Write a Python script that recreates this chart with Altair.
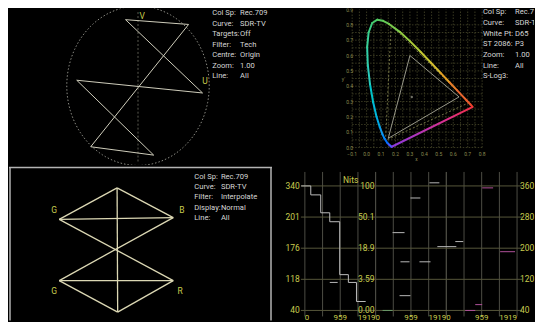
import altair as alt
import pandas as pd

FONT = "Roboto, Liberation Sans, sans-serif"
TXT = "#d6d6d6"
YEL = "#c9cc4e"

# panel sizes (layout)
W_L, W_R, H_T, H_B = 264, 263, 157, 156

# ---------------- Top-left: vectorscope ----------------
vec_u = [-0.175, 0.71, -0.664, 0.22, -0.86, 0.906, -0.175]
vec_v = [0.83, 0.77, -0.765, -0.87, 0.07, -0.09, 0.83]
vec_lbl = ["V", "U"]
vec_lbl_u = [0.06, 0.94]
vec_lbl_v = [0.88, 0.056]
circle_deg = list(range(0, 361, 3))
tl_keys = ["Col Sp:", "Curve:", "Targets:", "Filter:", "Centre:", "Zoom:", "Line:"]
tl_vals = ["Rec.709", "SDR-TV", "Off", "Tech", "Origin", "1.00", "All"]

# ---------------- Top-right: CIE 1931 chromaticity ----------------
locus_wl = [380, 420, 440, 450, 460, 470, 475, 480, 485, 490, 495, 500, 505, 510, 515,
            520, 525, 530, 540, 550, 560, 570, 580, 590, 600, 620, 640, 700]
locus_x = [0.1741, 0.1714, 0.1644, 0.1566, 0.1440, 0.1241, 0.1096, 0.0913, 0.0687, 0.0454,
           0.0235, 0.0082, 0.0039, 0.0139, 0.0389, 0.0743, 0.1142, 0.1547, 0.2296, 0.3016,
           0.3731, 0.4441, 0.5125, 0.5752, 0.6270, 0.6915, 0.7190, 0.7347]
locus_y = [0.0050, 0.0051, 0.0109, 0.0177, 0.0297, 0.0578, 0.0868, 0.1327, 0.2007, 0.2950,
           0.4127, 0.5384, 0.6548, 0.7502, 0.8120, 0.8338, 0.8262, 0.8059, 0.7543, 0.6923,
           0.6245, 0.5547, 0.4866, 0.4242, 0.3725, 0.3083, 0.2809, 0.2653]
rec709_x = [0.64, 0.30, 0.15, 0.64]
rec709_y = [0.33, 0.60, 0.06, 0.33]
rec2020_x = [0.708, 0.170, 0.131, 0.708]
rec2020_y = [0.292, 0.797, 0.046, 0.292]
white_x, white_y = [0.3127], [0.3290]
cie_xticks = [-0.1, 0.0, 0.1, 0.2, 0.3, 0.4, 0.5, 0.6, 0.7, 0.8]
cie_yticks = [0.0, 0.1, 0.2, 0.3, 0.4, 0.5, 0.6, 0.7, 0.8, 0.9]
cie_grid = [round(-0.1 + 0.05 * i, 2) for i in range(19)]
tr_keys = ["Col Sp:", "Curve:", "White Pt:", "ST 2086:", "Zoom:", "Line:", "S-Log3:"]
tr_vals = ["Rec.709", "SDR-TV", "D65", "P3", "1.00", "All", ""]

# ---------------- Bottom-left: diamond display ----------------
dia_x1 = [0, 0, -1.01, -1.01, 0.98, -1.01, -1.01, 0.98, 0]
dia_y1 = [1, 1, 0.49, 0.49, 0.52, -0.5, -0.5, -0.5, 1]
dia_x2 = [-1.01, 0.98, 0.98, 0.98, -1.01, 0.98, 0.01, 0.01, 0.01]
dia_y2 = [0.49, 0.52, 0.52, -0.5, -0.5, -0.5, -1.01, -1.01, -1.01]
dia_lbl = ["G", "B", "G", "R"]
dia_lbl_x = [-1.10, 1.13, -1.10, 1.10]
dia_lbl_y = [0.645, 0.645, -0.67, -0.67]
bl_keys = ["Col Sp:", "Curve:", "Filter:", "Display:", "Line:"]
bl_vals = ["Rec.709", "SDR-TV", "Interpolate", "Normal", "All"]

# ---------------- Bottom-right: waveform parade ----------------
wf_levels = [40, 120, 200, 280, 360]
wf_left_lbl = ["40", "118", "176", "201", "340"]
wf_nits_lbl = ["0.00", "3.59", "18.9", "50.1", "100"]
wf_right_lbl = ["40", "120", "200", "280", "360"]
wf_segments = [0, 1, 2]
wf_vlines = [0, 480, 959, 1440, 1919]
wf_xlbl_line = [0, 959, 1919]
wf_xlbl_align = ["left", "center", "right"]
SEG = 1919
wf1_line = [-100, 160, 430, 675, 945, 1180, 1400, 1650]
wf1_lvl = [360, 337, 291, 268, 132, 112, 63, 63]
tr_seg = [0, 1, 1, 1, 1, 1, 1, 1, 1, 2, 2, 2, 2, 2]
tr_l0 = [675, 190, 460, 650, 675, 945, 1190, 1460, 1675, 243, 973, 1460, 513, 784]
tr_l1 = [890, 460, 785, 945, 920, 1215, 1490, 1730, 2190, 459, 1270, 1865, 784, 973]
tr_lvl = [112, 40, 240, 78, 165, 329, 165, 368, 204, 217, 355, 191, 40, 55]
tr_grp = ["w", "g", "w", "w", "w", "w", "w", "w", "w", "w", "m", "m", "m", "m"]


def sc(dom):
    return alt.Scale(domain=dom, nice=False, zero=False)


def text_block(keys, vals, xk, xv, y0, dy, size=7.6, color=TXT):
    n = len(keys)
    df = pd.DataFrame({"row": list(range(n)), "k": keys, "v": vals})
    yenc = alt.Y("row:Q", scale=alt.Scale(domain=[0, n - 1], range=[y0, y0 + dy * (n - 1)]), axis=None)
    base = alt.Chart(df)
    kw = dict(baseline="middle", font=FONT, fontSize=size, color=color, clip=True, align="left")
    return [base.mark_text(**kw).encode(x=alt.value(xk), y=yenc, text="k:N"),
            base.mark_text(**kw).encode(x=alt.value(xv), y=yenc, text="v:N")]


def panel(layers, w, h):
    return alt.layer(*layers).properties(width=w, height=h).resolve_scale(x="independent", y="independent")


# ---- top-left panel ----
xs_tl, ys_tl = sc([-1.811, 1.881]), sc([-0.994, 0.969])
circ = alt.Chart(pd.DataFrame({"deg": circle_deg})).transform_calculate(
    u="cos(datum.deg*PI/180)", v="sin(datum.deg*PI/180)"
).mark_line(color="#8c8c84", strokeDash=[1.5, 2], strokeWidth=1, clip=True).encode(
    x=alt.X("u:Q", scale=xs_tl, axis=None), y=alt.Y("v:Q", scale=ys_tl, axis=None), order="deg:Q")
axis_v = alt.Chart(pd.DataFrame({"u": [0], "v0": [-0.95], "v1": [0.95]})).mark_rule(
    color="#5a5a50", strokeDash=[2, 2], strokeWidth=1, clip=True).encode(
    x=alt.X("u:Q", scale=xs_tl, axis=None), y=alt.Y("v0:Q", scale=ys_tl, axis=None), y2="v1:Q")
vec = alt.Chart(pd.DataFrame({"i": list(range(len(vec_u))), "u": vec_u, "v": vec_v})).mark_line(
    color="#d0cebc", strokeWidth=1, clip=True).encode(
    x=alt.X("u:Q", scale=xs_tl, axis=None), y=alt.Y("v:Q", scale=ys_tl, axis=None), order="i:Q")
vec_t = alt.Chart(pd.DataFrame({"t": vec_lbl, "u": vec_lbl_u, "v": vec_lbl_v})).mark_text(
    color=YEL, font=FONT, fontSize=8.5, clip=True).encode(
    x=alt.X("u:Q", scale=xs_tl, axis=None), y=alt.Y("v:Q", scale=ys_tl, axis=None), text="t:N")
tl = panel([circ, axis_v, vec, vec_t] + text_block(tl_keys, tl_vals, 204, 232, 4.7, 10.55), W_L, H_T)

# ---- top-right panel ----
xs_tr, ys_tr = sc([-0.655, 1.159]), sc([-0.114, 0.906])
grid_df = pd.DataFrame({"g": cie_grid})
gkw = dict(color="#46462a", strokeWidth=0.8, strokeDash=[1.5, 1.5], clip=True)
gv = alt.Chart(grid_df).transform_calculate(y0="0", y1="0.9").mark_rule(**gkw).encode(
    x=alt.X("g:Q", scale=xs_tr, axis=None), y=alt.Y("y0:Q", scale=ys_tr, axis=None), y2="y1:Q")
gh = alt.Chart(grid_df).transform_filter("datum.g >= 0 && datum.g <= 0.9").transform_calculate(
    x0="-0.1", x1="0.8").mark_rule(**gkw).encode(
    y=alt.Y("g:Q", scale=ys_tr, axis=None), x=alt.X("x0:Q", scale=xs_tr, axis=None), x2="x1:Q")
seg_df = pd.DataFrame({"wl": [(a + b) / 2 for a, b in zip(locus_wl[:-1], locus_wl[1:])],
                       "x1": locus_x[:-1], "x2": locus_x[1:], "y1": locus_y[:-1], "y2": locus_y[1:]})
loc = alt.Chart(seg_df).mark_rule(strokeWidth=2, strokeCap="round", clip=True).encode(
    x=alt.X("x1:Q", scale=xs_tr, axis=None), x2="x2:Q",
    y=alt.Y("y1:Q", scale=ys_tr, axis=None), y2="y2:Q",
    color=alt.Color("wl:Q", legend=None, scale=alt.Scale(
        domain=[380, 460, 480, 495, 505, 520, 550, 575, 600, 700],
        range=["#6a48ff", "#3c5cff", "#2fa0e6", "#2ec8c0", "#38d0a0", "#4cc860",
               "#a0cc3c", "#d8c030", "#e86a30", "#ee2a2a"])))
purple = alt.Chart(pd.DataFrame({"x": [locus_x[0], locus_x[-1]], "y": [locus_y[0], locus_y[-1]]})).mark_line(
    strokeWidth=2, clip=True,
    stroke=alt.Gradient(gradient="linear", x1=0, x2=1, y1=1, y2=0,
                        stops=[alt.GradientStop(color="#8a3ae0", offset=0),
                               alt.GradientStop(color="#e0308a", offset=0.7),
                               alt.GradientStop(color="#f03040", offset=1)])).encode(
    x=alt.X("x:Q", scale=xs_tr, axis=None), y=alt.Y("y:Q", scale=ys_tr, axis=None))
tri709 = alt.Chart(pd.DataFrame({"i": list(range(4)), "x": rec709_x, "y": rec709_y})).mark_line(
    color="#a8a898", strokeWidth=0.9, clip=True).encode(
    x=alt.X("x:Q", scale=xs_tr, axis=None), y=alt.Y("y:Q", scale=ys_tr, axis=None), order="i:Q")
tri2020 = alt.Chart(pd.DataFrame({"i": list(range(4)), "x": rec2020_x, "y": rec2020_y})).mark_line(
    color="#7e7e4c", strokeWidth=0.9, strokeDash=[2, 2], clip=True).encode(
    x=alt.X("x:Q", scale=xs_tr, axis=None), y=alt.Y("y:Q", scale=ys_tr, axis=None), order="i:Q")
wp = alt.Chart(pd.DataFrame({"x": white_x, "y": white_y})).mark_point(
    filled=True, size=6, color="#a0a090", clip=True).encode(
    x=alt.X("x:Q", scale=xs_tr, axis=None), y=alt.Y("y:Q", scale=ys_tr, axis=None))
lkw = dict(color="#8c8c50", font=FONT, fontSize=5, clip=True)
xl = alt.Chart(pd.DataFrame({"x": cie_xticks})).transform_calculate(
    y="-0.042", t="format(datum.x, '.1f')").mark_text(**lkw).encode(
    x=alt.X("x:Q", scale=xs_tr, axis=None), y=alt.Y("y:Q", scale=ys_tr, axis=None), text="t:N")
yl = alt.Chart(pd.DataFrame({"y": cie_yticks})).transform_calculate(
    x="-0.117", t="format(datum.y, '.1f')").mark_text(**lkw).encode(
    x=alt.X("x:Q", scale=xs_tr, axis=None), y=alt.Y("y:Q", scale=ys_tr, axis=None), text="t:N")
ttl = alt.Chart(pd.DataFrame({"t": ["y'", "x"], "x": [-0.16, 0.345], "y": [0.45, -0.075]})).mark_text(**lkw).encode(
    x=alt.X("x:Q", scale=xs_tr, axis=None), y=alt.Y("y:Q", scale=ys_tr, axis=None), text="t:N")
tr = panel([gv, gh, tri2020, tri709, loc, purple, wp, xl, yl, ttl] +
           text_block(tr_keys, tr_vals, 211.7, 244, 3.7, 10.7), W_R, H_T)

# ---- bottom-left panel ----
xs_bl, ys_bl = sc([-1.887, 2.704]), sc([-1.145, 1.371])
dia = alt.Chart(pd.DataFrame({"x1": dia_x1, "y1": dia_y1, "x2": dia_x2, "y2": dia_y2})).mark_rule(
    color="#dcd8b4", strokeWidth=1.3, clip=True).encode(
    x=alt.X("x1:Q", scale=xs_bl, axis=None), x2="x2:Q",
    y=alt.Y("y1:Q", scale=ys_bl, axis=None), y2="y2:Q")
dia_t = alt.Chart(pd.DataFrame({"t": dia_lbl, "x": dia_lbl_x, "y": dia_lbl_y})).mark_text(
    color=YEL, font=FONT, fontSize=8.5, clip=True).encode(
    x=alt.X("x:Q", scale=xs_bl, axis=None), y=alt.Y("y:Q", scale=ys_bl, axis=None), text="t:N")
bkw = dict(color="#b4b4b4", strokeWidth=1.5)
b_top = alt.Chart(pd.DataFrame({"a": [0]})).mark_rule(**bkw).encode(
    x=alt.value(0), x2=alt.value(W_L), y=alt.value(2.5))
b_left = alt.Chart(pd.DataFrame({"a": [0]})).mark_rule(**bkw).encode(
    x=alt.value(1), y=alt.value(2.5), y2=alt.value(H_B))
b_right = alt.Chart(pd.DataFrame({"a": [0]})).mark_rule(**bkw).encode(
    x=alt.value(W_L - 1), y=alt.value(2.5), y2=alt.value(H_B))
bl = panel([dia, dia_t, b_top, b_left, b_right] + text_block(bl_keys, bl_vals, 186, 212.7, 11.7, 10.4), W_L, H_B)

# ---- bottom-right panel ----
xs_br, ys_br = sc([-865, 6244]), sc([14.4, 413.8])
vl_df = pd.DataFrame([(s, l) for s in wf_segments for l in wf_vlines], columns=["s", "l"])
vlines = alt.Chart(vl_df).transform_calculate(X=f"datum.s*{SEG}+datum.l", y0="24.6", y1="395.9").mark_rule(
    color="#4c4c44", strokeWidth=1).encode(
    x=alt.X("X:Q", scale=xs_br, axis=None), y=alt.Y("y0:Q", scale=ys_br, axis=None), y2="y1:Q")
lv_df = pd.DataFrame({"lvl": wf_levels, "left": wf_left_lbl, "nits": wf_nits_lbl, "right": wf_right_lbl})
hlines = alt.Chart(lv_df).transform_calculate(x0="-108", x1="5892").mark_rule(
    color="#56563a", strokeWidth=1).encode(
    y=alt.Y("lvl:Q", scale=ys_br, axis=None), x=alt.X("x0:Q", scale=xs_br, axis=None), x2="x1:Q")
s1 = alt.Chart(pd.DataFrame({"l": wf1_line, "lvl": wf1_lvl})).mark_line(
    color="#bdbdbd", strokeWidth=1, interpolate="step-after", clip=True).encode(
    x=alt.X("l:Q", scale=xs_br, axis=None), y=alt.Y("lvl:Q", scale=ys_br, axis=None))
trc = alt.Chart(pd.DataFrame({"s": tr_seg, "l0": tr_l0, "l1": tr_l1, "lvl": tr_lvl, "g": tr_grp})).transform_calculate(
    X0=f"datum.s*{SEG}+datum.l0", X1=f"datum.s*{SEG}+datum.l1").mark_rule(strokeWidth=1, clip=True).encode(
    x=alt.X("X0:Q", scale=xs_br, axis=None), x2="X1:Q", y=alt.Y("lvl:Q", scale=ys_br, axis=None),
    color=alt.Color("g:N", legend=None, scale=alt.Scale(domain=["w", "g", "m"],
                                                        range=["#b8b8b8", "#6a9a6a", "#b0509a"])))
ykw = dict(color=YEL, font=FONT, fontSize=8.5, baseline="middle", clip=True)
lab_l = alt.Chart(lv_df).transform_calculate(x="-140").mark_text(align="right", **ykw).encode(
    x=alt.X("x:Q", scale=xs_br, axis=None), y=alt.Y("lvl:Q", scale=ys_br, axis=None), text="left:N")
lab_n = alt.Chart(lv_df).transform_calculate(x="1892").mark_text(align="right", **ykw).encode(
    x=alt.X("x:Q", scale=xs_br, axis=None), y=alt.Y("lvl:Q", scale=ys_br, axis=None), text="nits:N")
lab_r = alt.Chart(lv_df).transform_calculate(x="5840").mark_text(align="left", **ykw).encode(
    x=alt.X("x:Q", scale=xs_br, axis=None), y=alt.Y("lvl:Q", scale=ys_br, axis=None), text="right:N")
nits = alt.Chart(pd.DataFrame({"t": ["Nits"], "x": [1243], "y": [375]})).mark_text(**ykw).encode(
    x=alt.X("x:Q", scale=xs_br, axis=None), y=alt.Y("y:Q", scale=ys_br, axis=None), text="t:N")
xl_layers = []
for ln, al in zip(wf_xlbl_line, wf_xlbl_align):
    dfx = pd.DataFrame({"s": wf_segments})
    xl_layers.append(alt.Chart(dfx).transform_calculate(
        X=f"datum.s*{SEG}+{ln}", y="14.6", t=f"'{ln}'").mark_text(
        color=YEL, font=FONT, fontSize=8, baseline="alphabetic", align=al, clip=True).encode(
        x=alt.X("X:Q", scale=xs_br, axis=None), y=alt.Y("y:Q", scale=ys_br, axis=None), text="t:N"))
br = panel([vlines, hlines, s1, trc, lab_l, lab_n, lab_r, nits] + xl_layers, W_R, H_B)

chart = alt.vconcat(
    alt.hconcat(tl, tr, spacing=0),
    alt.hconcat(bl, br, spacing=0),
    spacing=0,
).properties(background="#000000", padding=0).configure_view(strokeWidth=0)

chart.save("out.html", embed_options={"renderer": "svg", "actions": False})
